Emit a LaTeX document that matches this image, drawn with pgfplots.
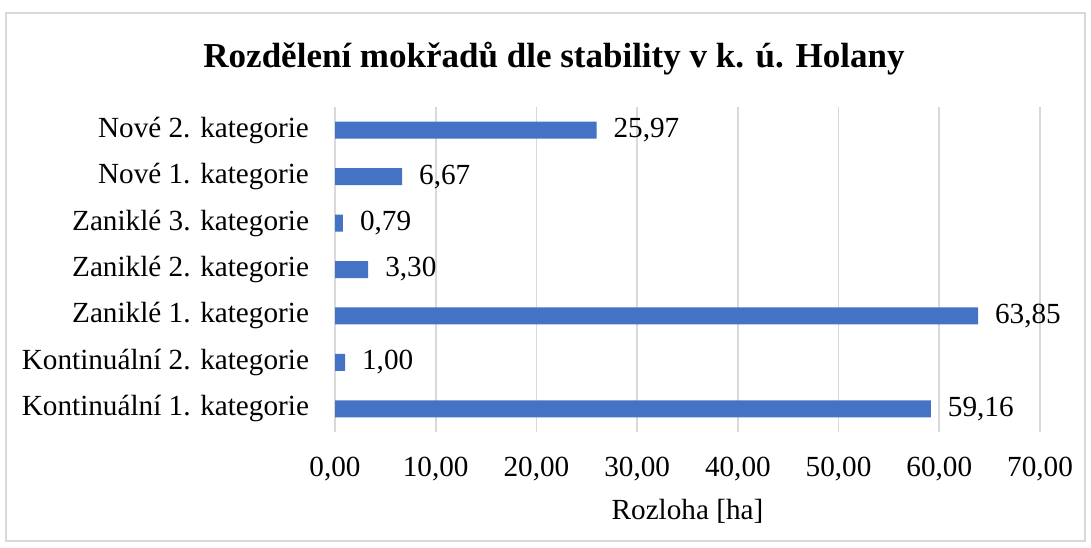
\documentclass[border=0pt]{standalone}
\usepackage{pgfplots}
\pgfplotsset{compat=1.18}
\usepackage{fontspec}
\setmainfont{Liberation Serif}
\definecolor{barblue}{HTML}{4472C4}
\definecolor{gridgray}{HTML}{D9D9D9}
\begin{document}
\begin{tikzpicture}
\path (0,0) rectangle (545.5pt,273.5pt);
\draw[gridgray, line width=0.8pt] (3pt,3pt) rectangle (542.5pt,267pt);
\node[font=\fontsize{17.5}{20}\selectfont\bfseries] at (277pt,244pt) {Rozdělení mokřadů dle stability v k. ú. Holany};
\begin{axis}[
  at={(167.5pt,57.5pt)}, anchor=south west,
  scale only axis, width=352.5pt, height=162.5pt,
  xbar, bar width=8.5pt,
  xmin=0, xmax=70, ymin=-0.5, ymax=6.5,
  xtick={0,10,...,70},
  ytick={0,...,6},
  yticklabels={Kontinuální 1. kategorie, Kontinuální 2. kategorie, Zaniklé 1. kategorie, Zaniklé 2. kategorie, Zaniklé 3. kategorie, Nové 1. kategorie, Nové 2. kategorie},
  axis line style={draw=none},
  major tick length=0pt,
  xmajorgrids, grid style={gridgray, line width=0.8pt},
  ticklabel style={font=\fontsize{14.6}{17}\selectfont},
  xticklabel style={yshift=-9pt},
  yticklabel style={xshift=-9.5pt},
  /pgf/number format/.cd, fixed, fixed zerofill, precision=2, use comma, assume math mode=true,
  /pgfplots/.cd,
  xlabel={Rozloha [ha]},
  xlabel style={font=\fontsize{14.6}{17}\selectfont, yshift=-2.5pt},
  point meta=x,
  nodes near coords,
  every node near coord/.append style={font=\fontsize{14.6}{17}\selectfont, text=black, xshift=5pt},
]
\addplot[fill=barblue, draw=none] coordinates {
 (59.16,0) (1.00,1) (63.85,2) (3.30,3) (0.79,4) (6.67,5) (25.97,6)
};
\end{axis}
\end{tikzpicture}
\end{document}
